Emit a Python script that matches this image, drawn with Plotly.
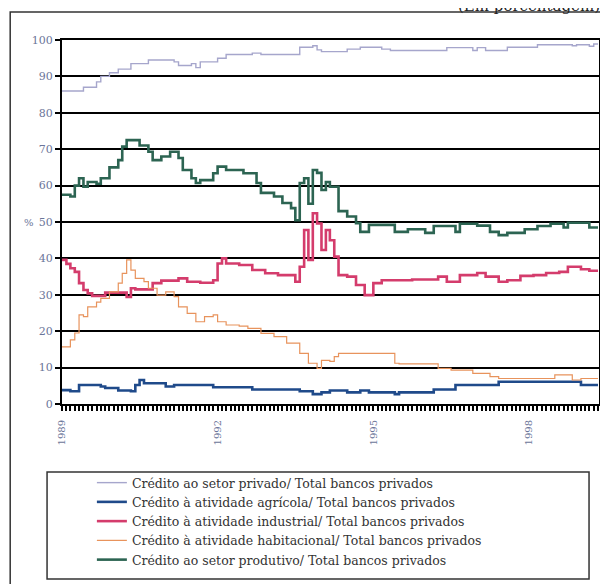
import plotly.graph_objects as go

# ---- data (step series, value changes at listed months) ----
privado_dates = ["1989-01","1989-06","1989-09","1989-10","1989-12","1990-02","1990-05","1990-09",
                 "1991-03","1991-04","1991-07","1991-08","1991-09","1992-01","1992-03","1992-09",
                 "1992-11","1993-08","1993-11","1993-12","1994-01","1994-07","1994-10","1995-03",
                 "1995-05","1996-06","1996-12","1997-01","1997-03","1997-08","1998-03","1998-11",
                 "1998-12","1999-03","1999-04","1999-05"]
privado_vals = [86,87,88.5,90,91,92,93.5,94.5,
                94,93,93.5,92.4,94,95,96,96.4,
                96,98,98.4,97.3,96.8,97.5,98,97.5,
                97.1,97.9,97.1,97.9,97.1,98,98.7,98.4,
                98.7,98.3,98.9,98.9]

agricola_dates = ["1989-01","1989-03","1989-05","1989-10","1989-11","1990-02","1990-05","1990-06",
                  "1990-07","1990-08","1991-01","1991-03","1991-12","1992-09","1993-08","1993-11",
                  "1994-01","1994-03","1994-07","1994-10","1994-12","1995-06","1995-07","1996-03",
                  "1996-08","1997-06","1999-01","1999-05"]
agricola_vals = [3.8,3.5,5.2,4.8,4.4,3.7,3.5,5.2,
                 6.6,5.7,4.8,5.2,4.6,4.0,3.5,2.7,
                 3.2,3.7,3.2,3.7,3.2,2.7,3.2,4.0,
                 5.2,6.1,5.2,5.2]

industrial_dates = ["1989-01","1989-02","1989-03","1989-04","1989-05","1989-06","1989-07","1989-08",
                    "1989-11","1990-04","1990-05","1990-06","1990-10","1990-12","1991-04","1991-06",
                    "1991-09","1991-12","1992-01","1992-02","1992-03","1992-06","1992-09","1992-12",
                    "1993-03","1993-07","1993-08","1993-09","1993-10","1993-11","1993-12","1994-01",
                    "1994-02","1994-03","1994-04","1994-05","1994-07","1994-09","1994-11","1995-01",
                    "1995-03","1995-10","1996-04","1996-06","1996-09","1997-01","1997-03","1997-06",
                    "1997-08","1997-11","1998-02","1998-05","1998-08","1998-10","1999-01","1999-03",
                    "1999-05"]
industrial_vals = [39.6,38.5,37.3,36.3,33.2,31.3,30.4,29.7,
                   30.6,29.4,31.8,31.5,33.2,33.9,34.5,33.6,
                   33.3,34.0,38.6,40.0,38.6,38.2,36.8,35.9,
                   35.4,33.6,37.7,47.8,39.6,52.4,49.6,42.3,
                   47.8,45.0,40.5,35.4,35.0,32.7,29.9,33.2,
                   34.0,34.2,35.0,33.6,35.4,36.0,35.0,33.6,
                   34.0,35.2,35.4,36.0,36.3,37.7,37.0,36.6,
                   36.6]

habitacional_dates = ["1989-01","1989-03","1989-04","1989-05","1989-06","1989-07","1989-09","1989-10",
                      "1989-12","1990-02","1990-03","1990-04","1990-05","1990-06","1990-08","1990-09",
                      "1990-11","1991-01","1991-03","1991-04","1991-06","1991-08","1991-10","1991-12",
                      "1992-01","1992-03","1992-06","1992-08","1992-11","1993-02","1993-05","1993-08",
                      "1993-10","1993-12","1994-01","1994-03","1994-04","1994-05","1995-06","1995-07",
                      "1996-04","1996-07","1996-12","1997-04","1997-06","1998-07","1998-11","1999-01",
                      "1999-05"]
habitacional_vals = [15.7,17.6,19.5,24.5,24.0,26.7,28.0,29.0,
                     30.8,33.2,35.9,39.6,36.8,34.5,33.6,31.8,
                     29.9,30.8,29.5,26.7,24.9,22.6,24.0,24.5,
                     22.6,21.7,21.4,20.8,19.4,18.5,16.7,13.9,
                     11.2,9.8,12.0,11.7,13.0,13.9,11.2,11.0,
                     9.8,9.3,8.4,7.5,7.0,8.0,6.6,7.0,
                     7.0]

produtivo_dates = ["1989-01","1989-03","1989-04","1989-05","1989-06","1989-07","1989-09","1989-10",
                   "1989-12","1990-02","1990-03","1990-04","1990-07","1990-09","1990-10","1990-12",
                   "1991-02","1991-04","1991-05","1991-07","1991-08","1991-09","1991-12","1992-01",
                   "1992-03","1992-07","1992-10","1992-11","1993-02","1993-04","1993-06","1993-07",
                   "1993-08","1993-09","1993-10","1993-11","1993-12","1994-01","1994-02","1994-03",
                   "1994-05","1994-07","1994-09","1994-10","1994-12","1995-06","1995-09","1996-01",
                   "1996-03","1996-08","1996-09","1997-01","1997-04","1997-06","1997-08","1997-12",
                   "1998-03","1998-06","1998-09","1998-10","1999-03","1999-05"]
produtivo_vals = [57.5,57.0,60.0,62.0,59.7,61.0,60.5,62.0,
                  65.0,67.0,70.7,72.5,71.0,69.3,67.0,68.0,
                  69.3,67.6,64.3,62.0,60.7,61.5,63.4,65.2,
                  64.3,63.4,60.7,58.0,57.0,55.2,53.8,50.5,
                  60.7,62.0,55.0,64.3,63.5,58.8,61.0,59.7,
                  53.0,51.5,49.7,47.3,49.2,47.3,48.0,47.0,
                  48.9,47.3,49.5,49.0,47.3,46.4,47.0,48.0,
                  48.9,49.5,48.5,49.8,48.5,48.5]

series_names = ["Crédito ao setor privado/ Total bancos privados",
                "Crédito à atividade agrícola/ Total bancos privados",
                "Crédito à atividade industrial/ Total bancos privados",
                "Crédito à atividade habitacional/ Total bancos privados",
                "Crédito ao setor produtivo/ Total bancos privados"]
year_ticks = ["1989-01-01", "1992-01-01", "1995-01-01", "1998-01-01"]
year_labels = ["1989", "1992", "1995", "1998"]

colors = ["#a6a6cc", "#1f4a8a", "#d43c6c", "#e8935c", "#2c6452"]
widths = [1.4, 2.6, 2.6, 1.2, 2.6]

fig = go.Figure()
all_series = [(privado_dates, privado_vals), (agricola_dates, agricola_vals),
              (industrial_dates, industrial_vals), (habitacional_dates, habitacional_vals),
              (produtivo_dates, produtivo_vals)]
for (d, v), name, c, w in zip(all_series, series_names, colors, widths):
    fig.add_trace(go.Scatter(x=d, y=v, mode="lines", name=name,
                             line=dict(color=c, width=w, shape="hv")))

# the page places the figure 8 px from the top-left corner of the window
OFF = 8
W, H = 608 - OFF, 584 - OFF
# plot area in window pixels: x 62..601, y 40..404
PL, PR, PT, PB = 62, 601, 40, 404
L, R, T, B = PL - OFF, W - (PR - OFF), PT - OFF, H - (PB - OFF)
pw, ph = PR - PL, PB - PT

def px(xw):
    return (xw - PL) / pw

def py(yw):
    return (PB - yw) / ph

SERIF = "DejaVu Serif"
tickfont = dict(family=SERIF, size=11, color="#6b7599")

fig.update_layout(
    width=W, height=H,
    margin=dict(l=L, r=R, t=T, b=B),
    paper_bgcolor="white", plot_bgcolor="white",
    font=dict(family=SERIF),
    showlegend=True,
    legend=dict(x=px(92), y=py(575), xanchor="left", yanchor="bottom",
                font=dict(family=SERIF, size=12.5, color="#333333"),
                bgcolor="rgba(0,0,0,0)", borderwidth=0, tracegroupgap=0),
    xaxis=dict(type="date", range=["1989-01-01", "1999-05-08"],
               tickvals=year_ticks, ticktext=year_labels, tickangle=-90,
               tickfont=dict(family=SERIF, size=10, color="#6b7599"),
               ticklabelstandoff=5,
               ticks="outside", ticklen=5, tickcolor="black", tickwidth=1.5,
               minor=dict(dtick="M1", tick0="1989-01-01", ticks="outside", ticklen=5,
                          tickcolor="black", tickwidth=1.5, showgrid=False),
               showgrid=False, showline=True, linecolor="black", linewidth=2, mirror=True,
               zeroline=False),
    yaxis=dict(range=[0, 100], dtick=10, tick0=0, tickfont=tickfont,
               ticks="outside", ticklen=5, tickcolor="black", tickwidth=1.5,
               showgrid=True, gridcolor="black", gridwidth=2,
               showline=True, linecolor="black", linewidth=2, mirror=True, zeroline=False),
    shapes=[
        dict(type="rect", xref="paper", yref="paper",
             x0=px(10), x1=px(606), y0=py(640), y1=py(12),
             line=dict(color="#333333", width=1.5), fillcolor="rgba(0,0,0,0)", layer="below"),
        dict(type="rect", xref="paper", yref="paper",
             x0=px(47), x1=px(591), y0=py(579), y1=py(472),
             line=dict(color="#333333", width=1.5), fillcolor="rgba(0,0,0,0)"),
    ],
    annotations=[
        dict(text="(Em porcentagem)", xref="paper", yref="paper", x=px(604), y=py(17),
             xanchor="right", yanchor="bottom", showarrow=False,
             font=dict(family=SERIF, size=15, color="#222222")),
        dict(text="%", xref="paper", yref="y", x=px(29), y=50, xanchor="center", yanchor="middle",
             showarrow=False, font=dict(family=SERIF, size=10, color="#6b7599")),
    ],
)

fig.write_html("out.html")
